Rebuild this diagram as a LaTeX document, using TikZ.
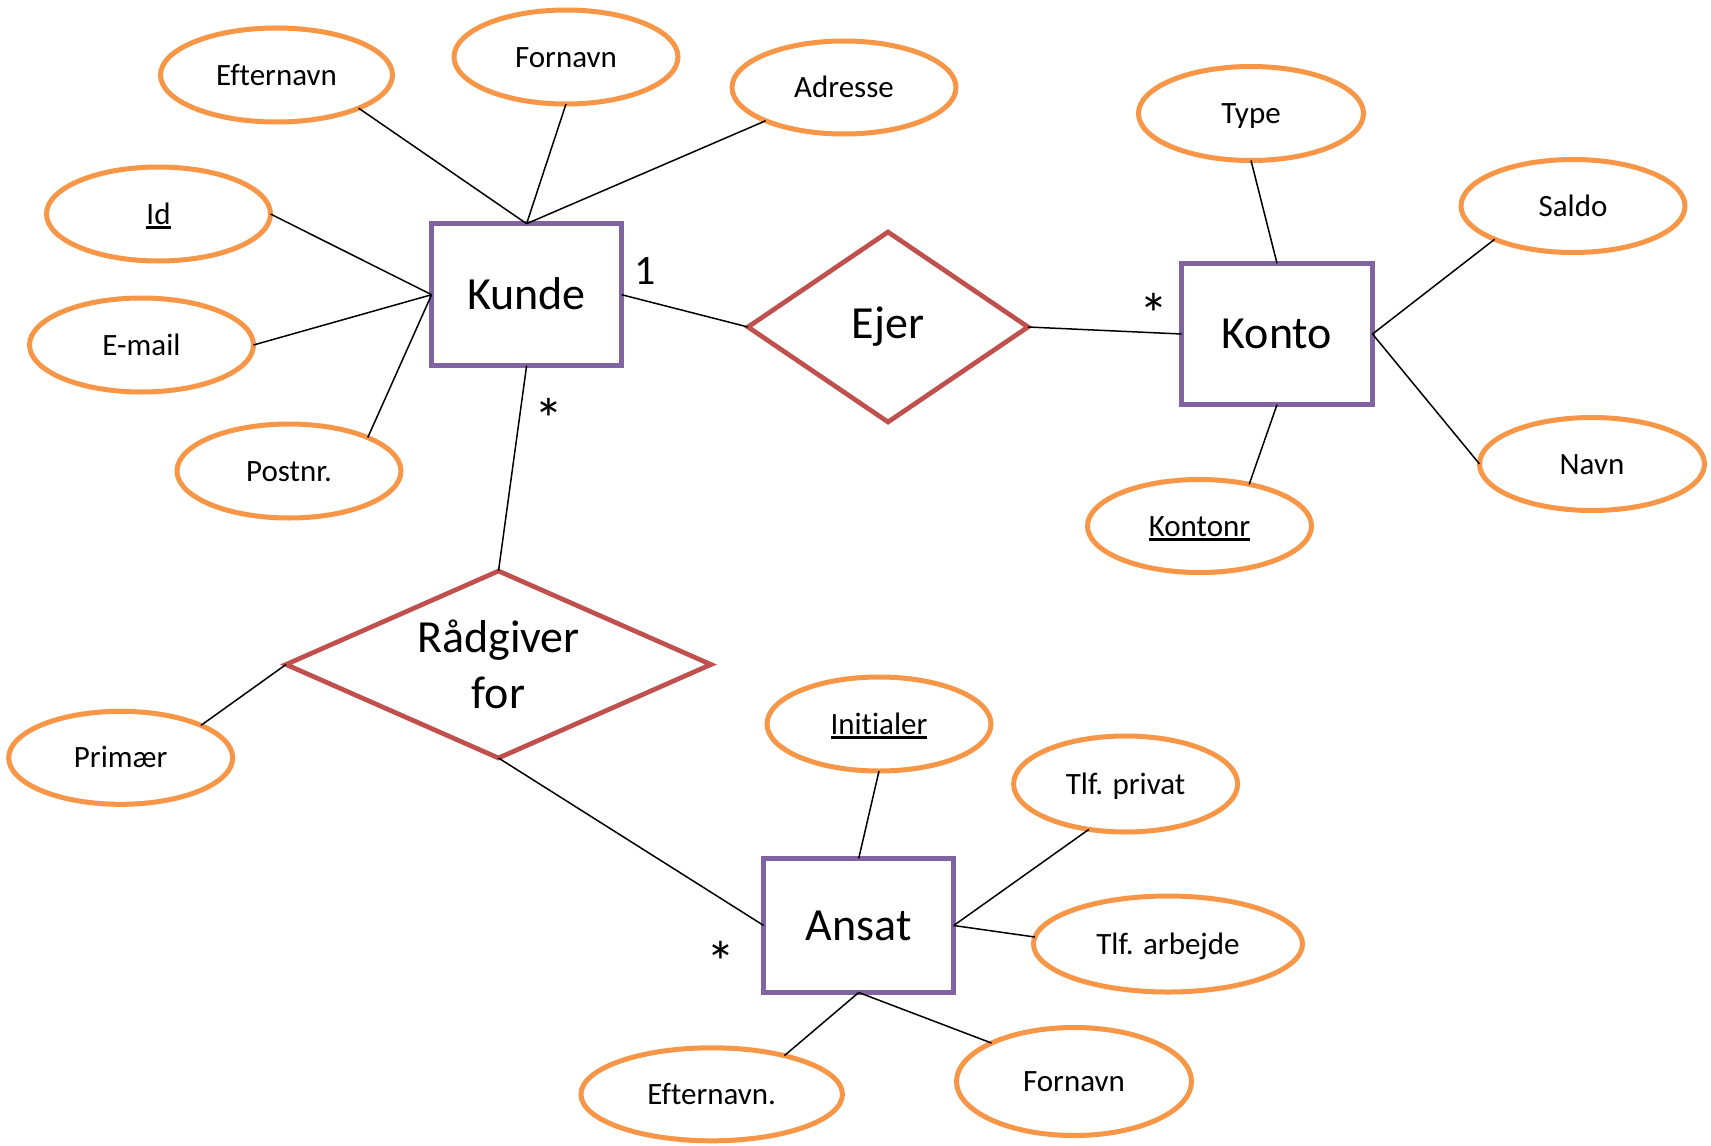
\documentclass[tikz,border=0pt]{standalone}
\usepackage{fontspec}
\setmainfont{Carlito}[Ligatures={NoCommon}]
\usetikzlibrary{shapes.geometric}
\definecolor{attrorange}{HTML}{F79646}
\definecolor{entpurple}{HTML}{8064A2}
\definecolor{relred}{HTML}{C0504D}
\newcommand{\keyul}[1]{\setbox0\hbox{#1}\rlap{\rule[-5pt]{\wd0}{2.6pt}}\box0}
\begin{document}
\begin{tikzpicture}[x=1pt,y=-1pt,
  attr/.style={ellipse, draw=attrorange, line width=5pt, fill=white, inner sep=0pt, outer sep=0pt,
    minimum width=224pt, minimum height=94pt,
    font=\fontsize{31}{37}\selectfont, text height=20pt, text depth=0pt},
  entity/.style={rectangle, draw=entpurple, line width=4.7pt, fill=white, inner sep=0pt, outer sep=0pt,
    minimum width=190pt, minimum height=142pt,
    font=\fontsize{46}{55}\selectfont, text height=29.6pt, text depth=0pt},
  rel/.style={diamond, draw=relred, line width=4.7pt, fill=white, inner sep=0pt, outer sep=0pt,
    font=\fontsize{46}{56}\selectfont},
  conn/.style={draw=black, line width=1.5pt},
  card/.style={inner sep=0pt, font=\fontsize{42}{50}\selectfont, anchor=base},
  star/.style={inner sep=0pt, font=\fontsize{58}{66}\selectfont, anchor=base}
]
\fill[white] (0,0) rectangle (1711,1146);
\useasboundingbox (0,0) rectangle (1711,1146);

% entities
\node[entity] (kunde) at (526.6,294.7) {Kunde};
\node[entity, minimum width=191pt, minimum height=141.4pt] (konto) at (1277,334) {Konto};
\node[entity, minimum height=134pt] (ansat) at (858.7,925.5) {Ansat};

% relationships
\node[rel, aspect=1.46, minimum width=280pt, minimum height=190pt] (ejer) at (888,327) {Ejer};
\node[rel, aspect=2.25, minimum width=425pt, minimum height=187pt, align=center] (rad) at (498.5,664.5) {Rådgiver\\for};

% attributes
\node[attr, minimum width=232pt] (eft1) at (276.5,75) {Efternavn};
\node[attr] (forn1) at (566,57) {Fornavn};
\node[attr, minimum height=93pt] (adr) at (844,87.5) {Adresse};
\node[attr] (id) at (158.5,214) {\keyul{Id}};
\node[attr] (email) at (141.5,345) {E-mail};
\node[attr] (postnr) at (289,471) {Postnr.};
\node[attr, minimum width=225pt] (type) at (1251,113.5) {Type};
\node[attr, minimum height=93pt] (saldo) at (1573,206) {Saldo};
\node[attr, minimum width=225pt, minimum height=93pt] (navn) at (1592,464) {Navn};
\node[attr, minimum height=93pt] (kontonr) at (1199.5,526) {\keyul{Kontonr}};
\node[attr, minimum height=93pt] (primaer) at (120.7,757.8) {Primær};
\node[attr] (initialer) at (879,724) {\keyul{Initialer}};
\node[attr, minimum height=96pt] (tlfpriv) at (1125.6,784) {Tlf. privat};
\node[attr, minimum width=269pt, minimum height=96pt] (tlfarb) at (1168,944) {Tlf. arbejde};
\node[attr, minimum width=235pt, minimum height=108pt] (forn2) at (1074,1081.5) {Fornavn};
\node[attr, minimum width=261.5pt, minimum height=93pt] (eft2) at (711.7,1094.3) {Efternavn.};

% connectors
\draw[conn] (eft1.-22) -- (kunde.north);
\draw[conn] (forn1.south) -- (kunde.north);
\draw[conn] (adr.203) -- (kunde.north);
\draw[conn] (id.east) -- (kunde.west);
\draw[conn] (email.east) -- (kunde.west);
\draw[conn] (postnr.23) -- (kunde.west);
\draw[conn] (kunde.east) -- (ejer.west);
\draw[conn] (ejer.east) -- (konto.west);
\draw[conn] (type.south) -- (konto.north);
\draw[conn] (saldo.203) -- (konto.east);
\draw[conn] (navn.west) -- (konto.east);
\draw[conn] (kontonr.40) -- (konto.south);
\draw[conn] (kunde.south) -- (rad.north);
\draw[conn] (primaer.22) -- (rad.west);
\draw[conn] (rad.south) -- (ansat.west);
\draw[conn] (initialer.south) -- (ansat.north);
\draw[conn] (tlfpriv.231) -- (ansat.east);
\draw[conn] (tlfarb.177) -- (ansat.east);
\draw[conn] (forn2.155) -- (ansat.south);
\draw[conn] (eft2.28) -- (ansat.south);

% cardinalities
\node[card] (c1) at (645,284) {1};
\node[star] (ckunde) at (548.5,439) {*};
\node[star] (ckonto) at (1154,334) {*};
\node[star] (cansat) at (721,982) {*};
\end{tikzpicture}
\end{document}
